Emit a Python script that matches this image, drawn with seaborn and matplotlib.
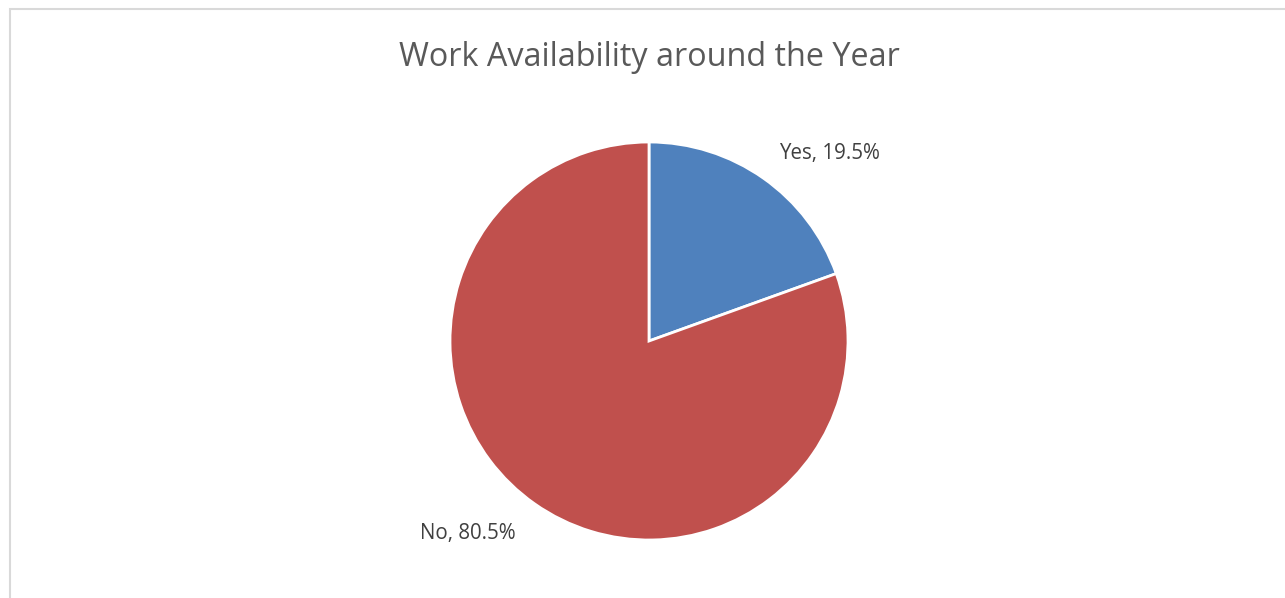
import matplotlib
matplotlib.use("Agg")
import matplotlib.pyplot as plt
import seaborn as sns
from matplotlib.patches import Rectangle

categories = ["Yes", "No"]
shares = [19.5, 80.5]
colors = ["#4F81BD", "#C0504D"]
title = "Work Availability around the Year"

sns.set_theme(style="white")
plt.rcParams["font.family"] = ["Open Sans", "DejaVu Sans"]

W, H = 1285, 598
fig = plt.figure(figsize=(W / 100, H / 100), dpi=100)
fig.patch.set_facecolor("white")

# chart area frame (left and top edges visible)
fig.add_artist(Rectangle((10 / W, -0.1), 1.2, 1.1 - 9 / H,
                         transform=fig.transFigure, fill=False,
                         edgecolor="#D9D9D9", linewidth=1.5))

cx, cy, r = 649, 341, 199
ax = fig.add_axes([(cx - r) / W, (H - cy - r) / H, 2 * r / W, 2 * r / H])
ax.pie(shares, colors=colors, startangle=90, counterclock=False, radius=1,
       wedgeprops=dict(edgecolor="white", linewidth=2))
ax.set_xlim(-1, 1)
ax.set_ylim(-1, 1)
ax.set_aspect("equal")
ax.axis("off")

fig.text(649 / W, 1 - 66.5 / H, title, ha="center", va="baseline",
         fontsize=23.3, color="#595959")

label_pos = {"Yes": (779, 159.5), "No": (420, 539)}
for cat, val in zip(categories, shares):
    x, y = label_pos[cat]
    fig.text(x / W, 1 - y / H, f"{cat}, {val}%", ha="left", va="baseline",
             fontsize=14.8, color="#404040")

fig.savefig("out.png", dpi=100)
